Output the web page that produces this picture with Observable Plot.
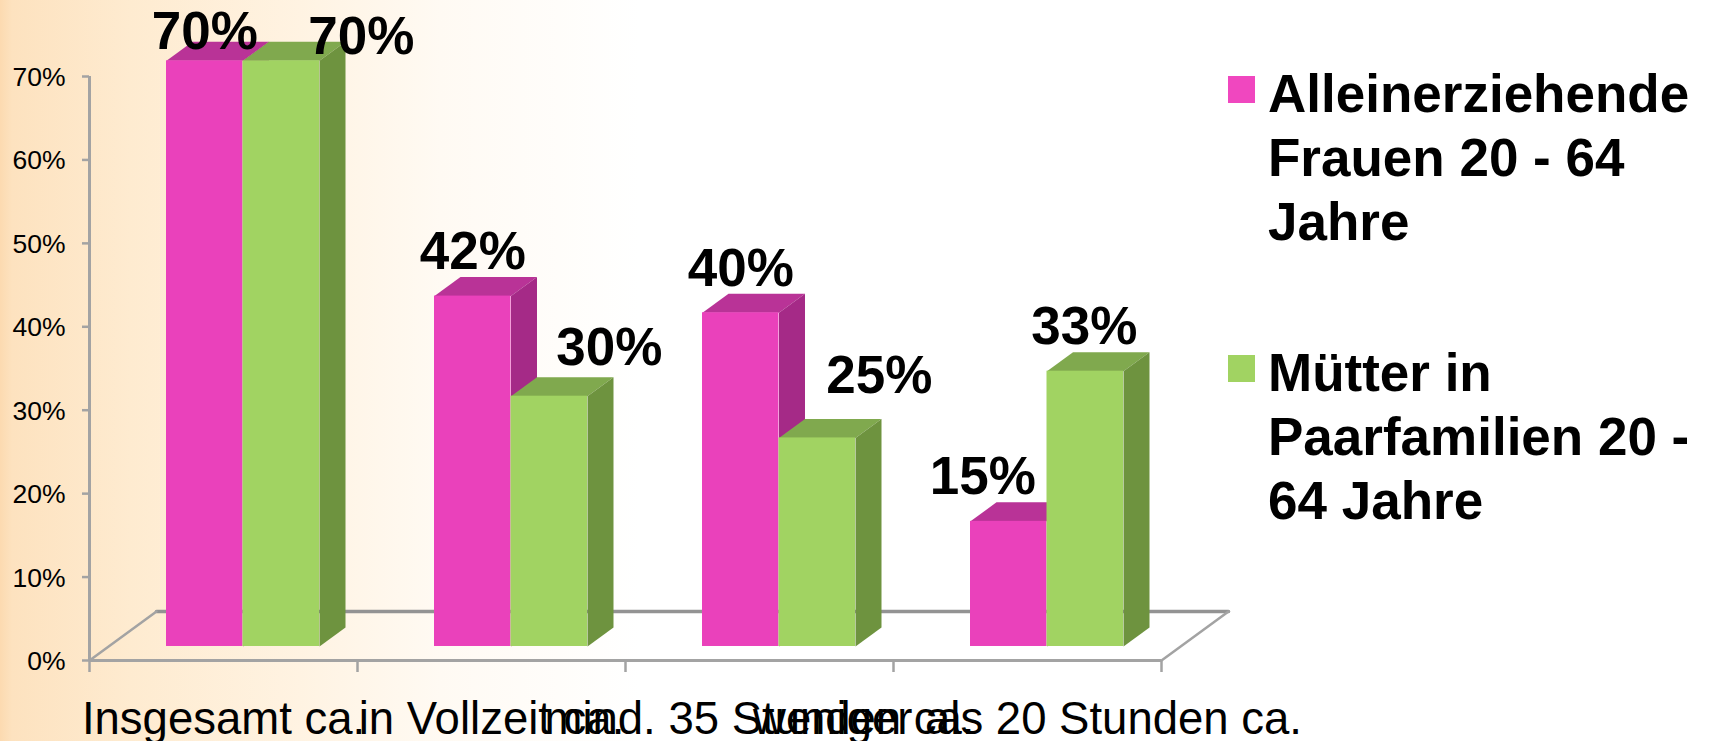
<!DOCTYPE html>
<html lang="de">
<head>
<meta charset="utf-8">
<script src="https://cdn.jsdelivr.net/npm/d3@7"></script>
<script src="https://cdn.jsdelivr.net/npm/@observablehq/plot@0.6"></script>
<style>
html,body{margin:0;padding:0;background:#fff}
#page{position:relative;width:1711px;height:741px;overflow:hidden;font-family:"Liberation Sans",Arial,sans-serif;
background:linear-gradient(90deg,#fcdab0 0,#fde2bf 12px,#feebd0 130px,#fff3e2 300px,#fffaf3 440px,#fff 640px)}
#page svg{position:absolute;left:0;top:0;background:transparent;overflow:visible}
.sw{position:absolute;width:27px;height:27px;left:1228px}
.lg{position:absolute;left:1268px;font-weight:bold;font-size:53px;line-height:64px;color:#000;white-space:nowrap}
</style>
</head>
<body>
<div id="page"></div>
<script>
const categories = ["Insgesamt ca.", "in Vollzeit ca.", "mind. 35 Stunden ca.", "weniger als 20 Stunden ca."];
const alleinerziehende = [70.2, 42, 40, 15];
const muetter = [70.2, 30, 25, 33];
const yTicks = [0, 10, 20, 30, 40, 50, 60, 70];
const legendPink = ["Alleinerziehende", "Frauen 20 - 64", "Jahre"];
const legendGreen = ["Mütter in", "Paarfamilien 20 -", "64 Jahre"];

// style / layout
const colors = {
  pink: {front: "#ea41bb", top: "#b93397", side: "#a52a87"},
  green: {front: "#a1d362", top: "#80a94e", side: "#6e933f"}
};
const axisColor = "#a3a3a3";
const barOffset = 77 / 268, barWidth = 76.5 / 268; // in category units
const depthX = 26 / 268, depthY = 2.28;            // bar depth in scale units
const lift = 1.68;                                 // bars stand on the floor, above the front edge
const floorX = 0.25, floorY = 5.87;
const pinkLabelOffsets = [[0, -12], [0, -27], [0, -27], [-26, -27]];
const greenLabelOffsets = [[80, -7], [60, -31], [62, -45], [-1, -27]];

function series(values, c, start) {
  const rows = values.map((v, i) => ({i, v, x1: i + start, x2: i + start + barWidth, y1: lift, y2: lift + v}));
  const top = rows.flatMap(r => [[r.x1, r.y2], [r.x2, r.y2], [r.x2 + depthX, r.y2 + depthY], [r.x1 + depthX, r.y2 + depthY]]
    .map(([x, y]) => ({x, y, z: r.i})));
  const side = rows.flatMap(r => [[r.x2, r.y1], [r.x2 + depthX, r.y1 + depthY], [r.x2 + depthX, r.y2 + depthY], [r.x2, r.y2]]
    .map(([x, y]) => ({x, y, z: r.i})));
  return [
    Plot.line(top, {x: "x", y: "y", z: "z", fill: c.top, stroke: null}),
    Plot.line(side, {x: "x", y: "y", z: "z", fill: c.side, stroke: null}),
    Plot.rect(rows, {x1: "x1", x2: "x2", y1: "y1", y2: "y2", fill: c.front})
  ];
}
function labels(values, start, offsets) {
  return values.map((v, i) => Plot.text([{x: i + start + barWidth / 2, y: lift + v, t: Math.round(v) + "%"}], {
    x: "x", y: "y", text: "t", dx: offsets[i][0], dy: offsets[i][1],
    lineAnchor: "bottom", fontSize: 53, fontWeight: "bold", fill: "#000"
  }));
}

const floor = [[0, 0], [floorX, floorY], [4 + floorX, floorY], [4, 0]].map(([x, y]) => ({x, y}));

const chart = Plot.plot({
  width: 1711, height: 741,
  marginLeft: 89, marginRight: 550, marginTop: 76, marginBottom: 81,
  style: {fontFamily: '"Liberation Sans",Arial,sans-serif', background: "transparent"},
  x: {domain: [0, 4], label: null},
  y: {domain: [0, 70], label: null},
  marks: [
    Plot.line(floor.slice(1, 3), {x: "x", y: "y", stroke: "#939393", strokeWidth: 3.5}),
    Plot.line(floor.slice(0, 2), {x: "x", y: "y", stroke: axisColor, strokeWidth: 2.5}),
    Plot.line(floor.slice(2), {x: "x", y: "y", stroke: axisColor, strokeWidth: 2.5}),
    Plot.ruleX([0], {y1: 0, y2: 70, stroke: axisColor, strokeWidth: 3}),
    Plot.ruleY([0], {x1: 0, x2: 4, stroke: axisColor, strokeWidth: 3}),
    Plot.axisY({ticks: yTicks, tickFormat: null, text: null, tickSize: 7, stroke: axisColor, strokeWidth: 2.5, label: null}),
    Plot.axisY({ticks: yTicks, tickFormat: d => d + "%", tickSize: 0, tickPadding: 24, fontSize: 26.5,
      color: "#000", label: null, dy: 1}),
    Plot.axisX({ticks: d3.range(0, 5), tickFormat: () => "", tickSize: 12, stroke: axisColor, strokeWidth: 2.5, label: null}),
    Plot.axisX({ticks: categories.map((c, i) => i + 0.5), tickFormat: t => categories[Math.floor(t)], tickSize: 0,
      tickPadding: 41, fontSize: 45.5, color: "#000", label: null}),
    ...series(alleinerziehende, colors.pink, barOffset),
    ...series(muetter, colors.green, barOffset + barWidth),
    ...labels(alleinerziehende, barOffset, pinkLabelOffsets),
    ...labels(muetter, barOffset + barWidth, greenLabelOffsets)
  ]
});

const page = document.getElementById("page");
page.appendChild(chart);
function legend(lines, color, top) {
  const s = document.createElement("div");
  s.className = "sw"; s.style.top = (top + 14) + "px"; s.style.background = color;
  page.appendChild(s);
  lines.forEach((l, i) => {
    const d = document.createElement("div");
    d.className = "lg"; d.style.top = (top + i * 64) + "px"; d.textContent = l;
    page.appendChild(d);
  });
}
legend(legendPink, "#f047bf", 62);
legend(legendGreen, colors.green.front, 341);
</script>
</body>
</html>
